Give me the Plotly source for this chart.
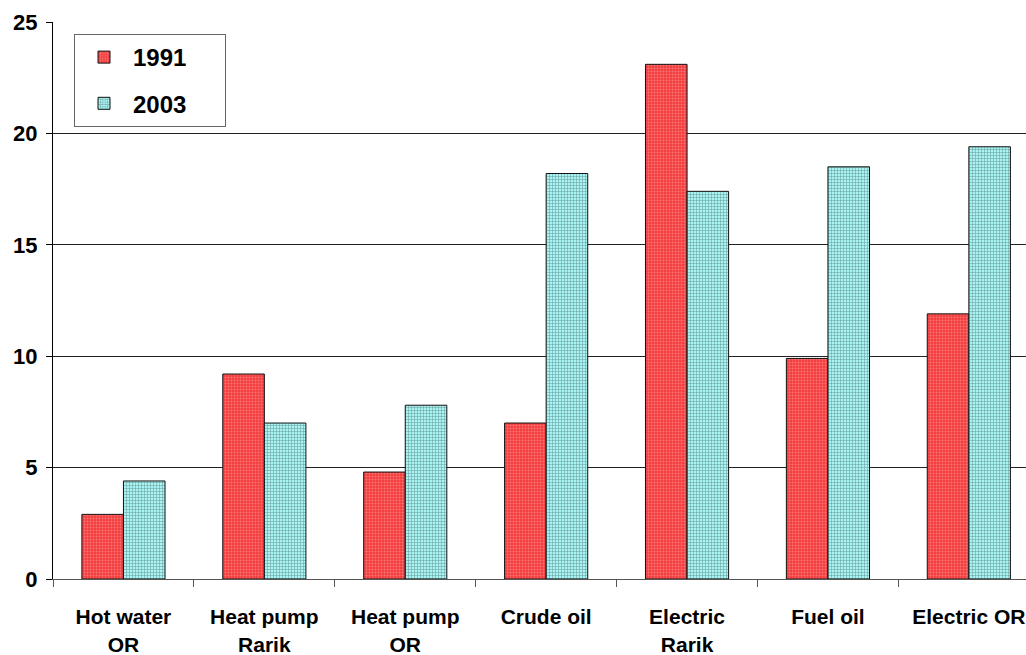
import plotly.graph_objects as go

# Categories and values per year
categories = ["Hot water<br>OR", "Heat pump<br>Rarik", "Heat pump<br>OR", "Crude oil",
              "Electric<br>Rarik", "Fuel oil", "Electric OR"]
values_1991 = [2.9, 9.2, 4.8, 7.0, 23.1, 9.9, 11.9]
values_2003 = [4.4, 7.0, 7.8, 18.2, 17.4, 18.5, 19.4]
y_ticks = [0, 5, 10, 15, 20, 25]

FONT = "Liberation Sans, Arial, sans-serif"
PAD = "\u00a0" * 5  # right padding inside the legend box

fig = go.Figure()
fig.add_trace(go.Bar(
    name="1991" + PAD, x=categories, y=values_1991, legendgroup="a",
    marker=dict(
        color="#FF4B4B",
        line=dict(color="#111111", width=1),
        pattern=dict(shape=".", fgcolor="#FFB0B0", bgcolor="#F43C3C",
                     size=3, solidity=0.35),
    ),
))
fig.add_trace(go.Bar(
    name="2003" + PAD, x=categories, y=values_2003, legendgroup="b",
    marker=dict(
        color="#9EF0F0",
        line=dict(color="#111111", width=1),
        pattern=dict(shape="+", fgcolor="#2A3A3A", bgcolor="#A8F4F4",
                     size=3, solidity=0.3),
    ),
))

W, H = 1026, 655
ml, mt, mb = 53, 22, 76
cat_px = 140.9
plot_w = W - ml

fig.update_layout(
    width=W, height=H,
    margin=dict(l=ml, r=0, t=mt, b=mb, pad=0, autoexpand=False),
    paper_bgcolor="white", plot_bgcolor="white",
    barmode="group", bargap=0.41, bargroupgap=0,
    font=dict(family=FONT, color="black"),
    legend=dict(
        x=(74 - ml) / plot_w, y=(H - mb - 34) / (H - mt - mb),
        xanchor="left", yanchor="top",
        bordercolor="#666666", borderwidth=1, bgcolor="white",
        font=dict(size=24, family=FONT, color="black", weight="bold"),
        tracegroupgap=12, traceorder="grouped",
        itemwidth=48,
    ),
    xaxis=dict(
        range=[-0.5, -0.5 + plot_w / cat_px], automargin=False,
        showline=True, linecolor="#555555", linewidth=1,
        ticks="outside", tickson="boundaries", ticklen=7, tickcolor="#555555",
        showgrid=False, zeroline=False, ticklabelstandoff=19,
        tickfont=dict(size=21, family=FONT, color="black", weight="bold"),
    ),
    yaxis=dict(
        range=[0, 25], tickvals=y_ticks, ticktext=[str(v) for v in y_ticks],
        automargin=False,
        showline=True, linecolor="black", linewidth=1,
        ticks="outside", ticklen=6, tickcolor="black",
        showgrid=True, gridcolor="#222222", gridwidth=1, zeroline=False,
        ticklabelstandoff=4,
        tickfont=dict(size=22, family=FONT, color="black", weight="bold"),
    ),
)

fig.write_html("out.html")
